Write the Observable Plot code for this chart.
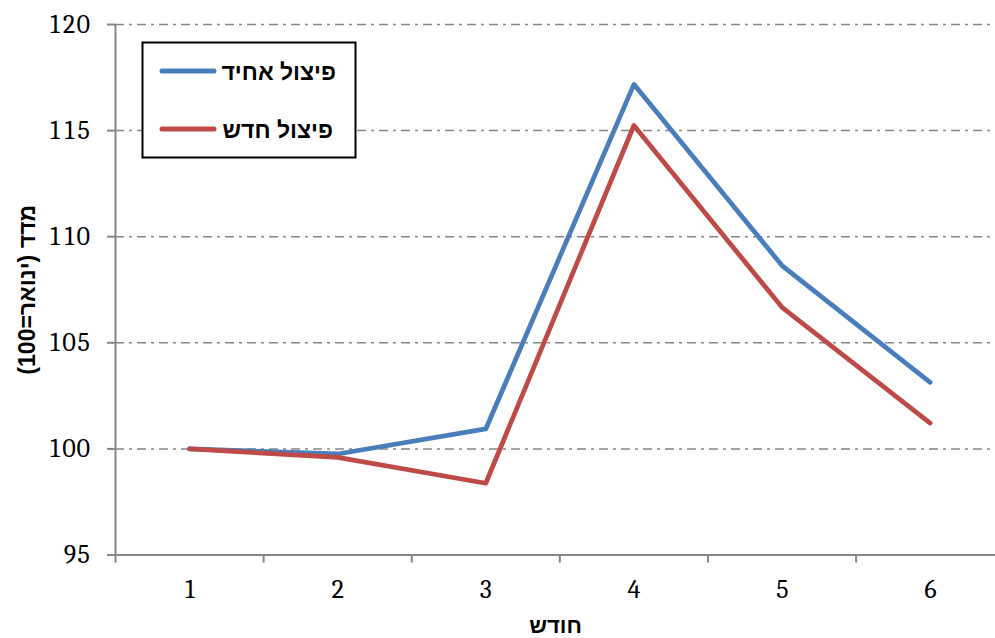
<!DOCTYPE html>
<html>
<head>
<meta charset="utf-8">
<script src="https://cdn.jsdelivr.net/npm/d3@7"></script>
<script src="https://cdn.jsdelivr.net/npm/@observablehq/plot@0.6"></script>
<style>
  html, body { margin: 0; padding: 0; background: #fff; overflow: hidden; }
  #wrap { position: relative; width: 995px; height: 638px; }
  #legend { position: absolute; left: 0; top: 0; }
</style>
</head>
<body>
<div id="wrap"></div>
<script>
const months = [1, 2, 3, 4, 5, 6];
const seriesNames = ["פיצול אחיד", "פיצול חדש"];
const uniformSplit = [100, 99.76, 100.94, 117.18, 108.64, 103.14];
const newSplit = [100, 99.6, 98.38, 115.24, 106.67, 101.22];
const seriesColors = ["#4A7EBB", "#BE4B48"];
const yTicks = [95, 100, 105, 110, 115, 120];
const gridTicks = [100, 105, 110, 115, 120];
const xBoundaries = [0.5, 1.5, 2.5, 3.5, 4.5, 5.5, 6.5];
const xTitle = "חודש";
const yTitle = "מדד (ינואר=100)";

const data = [];
months.forEach((m, i) => {
  data.push({month: m, value: uniformSplit[i], series: seriesNames[0]});
});
months.forEach((m, i) => {
  data.push({month: m, value: newSplit[i], series: seriesNames[1]});
});

const gray = "#868686";
const serif = "Cambria, 'Liberation Serif', 'DejaVu Serif', serif";
const sans = "Arial, 'Liberation Sans', 'DejaVu Sans', sans-serif";

const chart = Plot.plot({
  width: 995,
  height: 638,
  marginLeft: 115,
  marginRight: 0,
  marginTop: 24,
  marginBottom: 83.5,
  x: {domain: [0.5, 6.5], range: [115, 1003.7]},
  y: {domain: [95, 120]},
  color: {domain: seriesNames, range: seriesColors},
  marks: [
    Plot.ruleY(gridTicks, {stroke: gray, strokeWidth: 1.5, strokeDasharray: "9,5,3,5"}),
    Plot.axisY(yTicks, {tickSize: 8, tickPadding: 17, stroke: gray, strokeWidth: 2, fill: "black",
      fontSize: 26, fontFamily: serif, label: null, tickFormat: d => String(d)}),
    Plot.axisX(xBoundaries, {tickSize: 8, stroke: gray, strokeWidth: 2, tickFormat: () => "", label: null}),
    Plot.axisX(months, {tickSize: 0, tickPadding: 25, fill: "black", fontSize: 26, fontFamily: serif,
      label: null, tickFormat: d => String(d)}),
    Plot.ruleX([0.5], {y1: 95, y2: 120, stroke: gray, strokeWidth: 2}),
    Plot.ruleY([95], {stroke: gray, strokeWidth: 2}),
    Plot.line(data, {x: "month", y: "value", z: "series", stroke: "series", strokeWidth: 4.75,
      strokeLinecap: "round", strokeLinejoin: "round"}),
    Plot.text([xTitle], {frameAnchor: "bottom", dy: 78, fontSize: 22, fontWeight: "bold",
      fontFamily: sans, fill: "black", textAnchor: "middle", text: d => d}),
    Plot.text([yTitle], {frameAnchor: "left", dx: -88, rotate: -90, fontSize: 23, fontWeight: "bold",
      fontFamily: sans, fill: "black", textAnchor: "middle", text: d => d})
  ]
});

chart.querySelectorAll("text").forEach(t => {
  if (/[\u0590-\u05FF]/.test(t.textContent)) t.setAttribute("direction", "rtl");
});

const wrap = document.getElementById("wrap");
wrap.appendChild(chart);

// Legend overlay
const ns = "http://www.w3.org/2000/svg";
const leg = document.createElementNS(ns, "svg");
leg.setAttribute("id", "legend");
leg.setAttribute("width", 995);
leg.setAttribute("height", 638);
const box = document.createElementNS(ns, "rect");
box.setAttribute("x", 142.5); box.setAttribute("y", 42.5);
box.setAttribute("width", 213); box.setAttribute("height", 115);
box.setAttribute("fill", "white"); box.setAttribute("stroke", "black"); box.setAttribute("stroke-width", 2);
leg.appendChild(box);
const rows = [71, 129];
seriesNames.forEach((name, i) => {
  const ln = document.createElementNS(ns, "line");
  ln.setAttribute("x1", 162); ln.setAttribute("x2", 214);
  ln.setAttribute("y1", rows[i]); ln.setAttribute("y2", rows[i]);
  ln.setAttribute("stroke", seriesColors[i]); ln.setAttribute("stroke-width", 5);
  ln.setAttribute("stroke-linecap", "round");
  leg.appendChild(ln);
  const tx = document.createElementNS(ns, "text");
  tx.setAttribute("x", i === 0 ? 336 : 333);
  tx.setAttribute("y", rows[i] + 8.5);
  tx.setAttribute("direction", "rtl");
  tx.setAttribute("text-anchor", "start");
  tx.setAttribute("font-family", sans);
  tx.setAttribute("font-weight", "bold");
  tx.setAttribute("font-size", 23);
  tx.textContent = name;
  leg.appendChild(tx);
});
wrap.appendChild(leg);
</script>
</body>
</html>
